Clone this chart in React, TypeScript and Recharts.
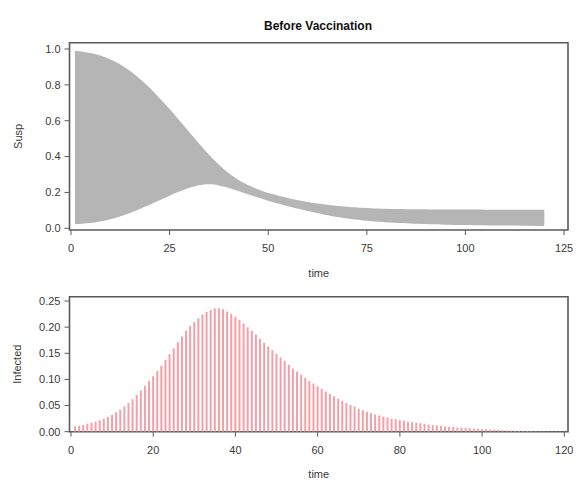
import React from "react";
import { ComposedChart, Area, Bar, XAxis, YAxis, ReferenceArea } from "recharts";

const suspHigh = [
  0.990, 0.988, 0.985, 0.981, 0.977, 0.972, 0.966, 0.959, 0.951, 0.942,
  0.932, 0.920, 0.907, 0.893, 0.877, 0.860, 0.842, 0.823, 0.803, 0.782,
  0.760, 0.737, 0.713, 0.689, 0.665, 0.640, 0.614, 0.588, 0.562, 0.536,
  0.510, 0.484, 0.459, 0.434, 0.410, 0.387, 0.365, 0.344, 0.325, 0.307,
  0.291, 0.276, 0.263, 0.251, 0.240, 0.230, 0.221, 0.212, 0.204, 0.197,
  0.191, 0.185, 0.179, 0.174, 0.169, 0.164, 0.159, 0.155, 0.151, 0.147,
  0.143, 0.140, 0.137, 0.134, 0.131, 0.129, 0.126, 0.124, 0.122, 0.120,
  0.118, 0.117, 0.115, 0.114, 0.113, 0.112, 0.111, 0.110, 0.109, 0.109,
  0.108, 0.108, 0.107, 0.107, 0.106, 0.106, 0.106, 0.106, 0.106, 0.106,
  0.105, 0.105, 0.105, 0.105, 0.105, 0.105, 0.105, 0.105, 0.105, 0.105,
  0.105, 0.105, 0.105, 0.105, 0.104, 0.104, 0.104, 0.104, 0.104, 0.104,
  0.104, 0.104, 0.104, 0.104, 0.104, 0.104, 0.104, 0.104, 0.104, 0.104,
];

const suspLow = [
  0.022, 0.024, 0.026, 0.028, 0.030, 0.033, 0.036, 0.040, 0.045, 0.050,
  0.056, 0.063, 0.070, 0.078, 0.086, 0.095, 0.104, 0.113, 0.123, 0.132,
  0.142, 0.152, 0.162, 0.172, 0.182, 0.192, 0.201, 0.210, 0.218, 0.226,
  0.232, 0.238, 0.242, 0.245, 0.246, 0.245, 0.241, 0.236, 0.231, 0.225,
  0.218, 0.211, 0.204, 0.196, 0.189, 0.182, 0.175, 0.168, 0.161, 0.154,
  0.147, 0.141, 0.135, 0.129, 0.123, 0.117, 0.112, 0.107, 0.102, 0.097,
  0.092, 0.087, 0.082, 0.077, 0.073, 0.069, 0.065, 0.062, 0.058, 0.055,
  0.052, 0.049, 0.047, 0.044, 0.042, 0.040, 0.038, 0.036, 0.035, 0.033,
  0.032, 0.031, 0.030, 0.029, 0.028, 0.027, 0.026, 0.025, 0.024, 0.024,
  0.023, 0.022, 0.022, 0.021, 0.020, 0.020, 0.019, 0.019, 0.018, 0.018,
  0.018, 0.017, 0.017, 0.017, 0.017, 0.016, 0.016, 0.016, 0.016, 0.015,
  0.015, 0.015, 0.015, 0.014, 0.014, 0.014, 0.014, 0.013, 0.013, 0.013,
];

const infected = [
  0.010, 0.011, 0.013, 0.015, 0.017, 0.019, 0.022, 0.025, 0.028, 0.032,
  0.037, 0.042, 0.048, 0.055, 0.062, 0.070, 0.079, 0.088, 0.097, 0.106,
  0.116, 0.126, 0.137, 0.148, 0.159, 0.171, 0.182, 0.193, 0.202, 0.210,
  0.217, 0.224, 0.229, 0.233, 0.236, 0.236, 0.234, 0.230, 0.225, 0.220,
  0.214, 0.207, 0.200, 0.193, 0.186, 0.178, 0.170, 0.163, 0.156, 0.149,
  0.142, 0.135, 0.128, 0.121, 0.115, 0.109, 0.103, 0.097, 0.092, 0.087,
  0.082, 0.077, 0.072, 0.068, 0.063, 0.059, 0.055, 0.051, 0.048, 0.044,
  0.041, 0.038, 0.036, 0.033, 0.031, 0.029, 0.027, 0.025, 0.024, 0.022,
  0.021, 0.019, 0.018, 0.017, 0.016, 0.015, 0.014, 0.013, 0.012, 0.011,
  0.0100, 0.0095, 0.0088, 0.0082, 0.0076, 0.0070, 0.0065, 0.0060, 0.0055, 0.0050,
  0.0045, 0.0040, 0.0036, 0.0032, 0.0028, 0.0025, 0.0022, 0.0019, 0.0017, 0.0015,
  0.0013, 0.0011, 0.0010, 0.0009, 0.0008, 0.0007, 0.0006, 0.0005, 0.0005, 0.0004,
];

const topXTicks = [0, 25, 50, 75, 100, 125];
const topYTicks = [0, 0.2, 0.4, 0.6, 0.8, 1.0];
const botXTicks = [0, 20, 40, 60, 80, 100, 120];
const botYTicks = [0, 0.05, 0.1, 0.15, 0.2, 0.25];

const title = "Before Vaccination";
const topYLabel = "Susp";
const botYLabel = "Infected";
const xLabel = "time";

const topData = suspHigh.map((h, i) => ({ time: i + 1, band: [suspLow[i], h] }));
const botData = infected.map((v, i) => ({ time: i + 1, infected: v }));

const FONT = "'Liberation Sans', Arial, sans-serif";
const TICK = { fontSize: 11, fill: "#3a3a3a", fontFamily: FONT };
const FRAME = "#5a5a5a";

const XTitle = (props: any) => {
  const vb = props.viewBox || {};
  return (
    <text x={vb.x + vb.width / 2} y={vb.y + props.dyOff} textAnchor="middle"
      fontSize={11} fill="#3a3a3a" fontFamily={FONT}>{props.value}</text>
  );
};

const YTitle = (props: any) => {
  const vb = props.viewBox || {};
  const x = props.xPos;
  const y = vb.y + vb.height / 2;
  return (
    <text x={x} y={y} textAnchor="middle" transform={`rotate(-90, ${x}, ${y})`}
      fontSize={11} fill="#3a3a3a" fontFamily={FONT}>{props.value}</text>
  );
};

export default function App() {
  return (
    <div style={{ position: "relative", width: 573, height: 476 }}>
      <div style={{ position: "absolute", left: 210, top: 11, width: 200, textAlign: "center",
        fontFamily: FONT, fontWeight: "bold", fontSize: 12, lineHeight: "14px", color: "#111" }}>
        {title}
      </div>
      <div style={{ position: "absolute", left: 0, top: 0 }}>
        <ComposedChart width={573} height={270} data={topData}
          margin={{ top: 34.7, right: 13, left: 21.5, bottom: 3 }}>
          <XAxis dataKey="time" type="number" domain={[-0.38, 126]} ticks={topXTicks}
            allowDataOverflow axisLine={false} tickLine={{ stroke: FRAME }} tickSize={5}
            tickMargin={9} tick={TICK} height={45} interval={0}
            label={<XTitle value={xLabel} dyOff={47} />} />
          <YAxis type="number" domain={[-0.0095, 1.035]} ticks={topYTicks} allowDataOverflow
            axisLine={false} tickLine={{ stroke: FRAME }} tickSize={5} tickMargin={4}
            tick={TICK} width={40} interval={0} tickFormatter={(v: number) => v.toFixed(1)}
            label={<YTitle value={topYLabel} xPos={14} />} />
          <Area dataKey="band" type="linear" stroke="none" fill="#b5b5b5" fillOpacity={1}
            isAnimationActive={false} />
          <ReferenceArea x1={-0.38} x2={126} y1={-0.0095} y2={1.035} fill="none"
            stroke={FRAME} strokeWidth={1.6} ifOverflow="visible" />
        </ComposedChart>
      </div>
      <div style={{ position: "absolute", left: 0, top: 272 }}>
        <ComposedChart width={573} height={200} data={botData}
          margin={{ top: 16.7, right: 13, left: 21.5, bottom: 3.3 }}>
          <XAxis dataKey="time" type="number" domain={[-0.36, 120.9]} ticks={botXTicks}
            allowDataOverflow axisLine={false} tickLine={{ stroke: FRAME }} tickSize={5}
            tickMargin={9} tick={TICK} height={45} interval={0}
            label={<XTitle value={xLabel} dyOff={46.3} />} />
          <YAxis type="number" domain={[0, 0.2582]} ticks={botYTicks} allowDataOverflow
            axisLine={false} tickLine={{ stroke: FRAME }} tickSize={5} tickMargin={4}
            tick={TICK} width={40} interval={0} tickFormatter={(v: number) => v.toFixed(2)}
            label={<YTitle value={botYLabel} xPos={13} />} />
          <Bar dataKey="infected" fill="#f2a0a7" barSize={2} isAnimationActive={false} />
          <ReferenceArea x1={-0.36} x2={120.9} y1={0} y2={0.2582} fill="none"
            stroke={FRAME} strokeWidth={1.6} ifOverflow="visible" />
        </ComposedChart>
      </div>
    </div>
  );
}
